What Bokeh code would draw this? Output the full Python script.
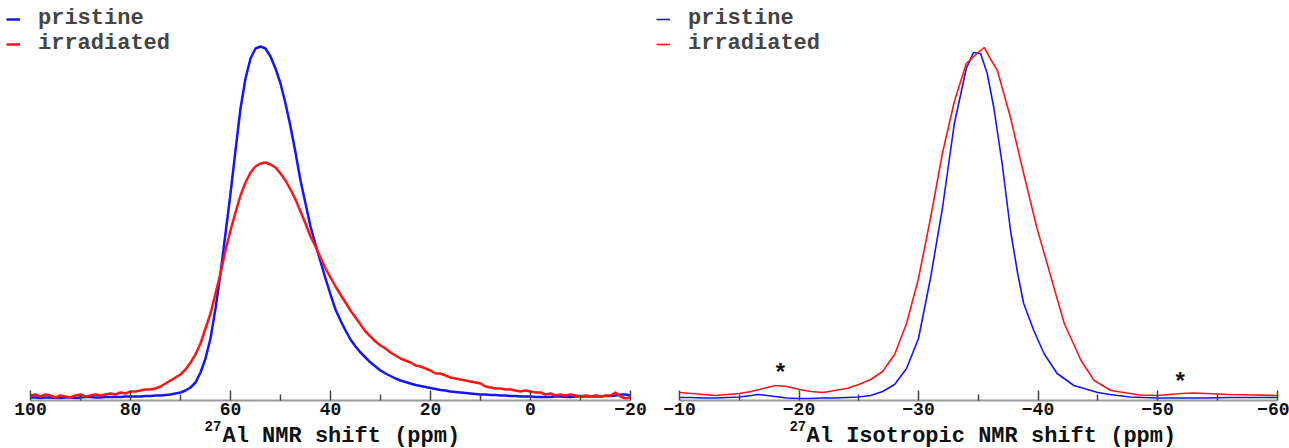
from bokeh.plotting import figure
from bokeh.models import Range1d, FixedTicker, Label, Legend, LegendItem
from bokeh.layouts import row
from bokeh.core.properties import value
from bokeh.embed import file_html
from bokeh.resources import INLINE

# ---------------- data: left panel (27Al MAS NMR) ----------------
left_ppm = [100, 99, 98, 97, 96, 95, 94, 93, 92, 91, 90, 89, 88, 87, 86, 85, 84, 83, 82, 81,
            80, 79, 78, 77, 76, 75, 74, 73, 72, 71, 70, 69, 68, 67, 66, 65, 64, 63, 62, 61,
            60, 59, 58, 57, 56, 55, 54, 53, 52, 51, 50, 49, 48, 47, 46, 45, 44, 43, 42, 41,
            40, 39, 38, 37, 36, 35, 34, 33, 32, 31, 30, 29, 28, 27, 26, 25, 24, 23, 22, 21,
            20, 19, 18, 17, 16, 15, 14, 13, 12, 11, 10, 9, 8, 7, 6, 5, 4, 3, 2, 1,
            0, -1, -2, -3, -4, -5, -6, -7, -8, -9, -10, -11, -12, -13, -14, -15, -16, -17, -18, -19, -20]
left_pristine = [1, 1, 0.5, 1, 1, 0.5, 0.5, 1, 1, 0.5, 1, 1.5, 1.5, 1, 1, 1.5, 1.5, 1.5, 1.5, 2,
                 2, 2, 2, 2.5, 2.5, 3, 3, 3.5, 4, 5, 6, 8, 11, 16, 26, 40, 60, 90, 125, 165,
                 205, 248, 290, 320, 340, 350, 352, 350, 342, 330, 315, 295, 272, 246, 218, 195, 172, 154, 137, 120,
                 104, 89, 78, 68, 59, 52, 46, 41, 36, 32, 28, 25, 22.5, 20, 18, 16.5, 15, 13.5, 12.5, 11.5,
                 10.5, 9.5, 8.5, 8, 7, 6.5, 6, 5.5, 5, 4.5, 4, 4, 3.5, 3.5, 3, 3, 2.5, 2.5, 2, 2,
                 2, 1.5, 1.5, 1.5, 1.5, 2, 2, 1.5, 1.5, 2, 2, 2, 2, 2, 2, 2.5, 2.5, 3, 4, 4, 3]
left_irradiated = [3, 4, 2, 4, 3, 1, 3, 2, 1, 3, 4, 2, 3, 4, 3, 4, 5, 4, 6, 5,
                   7, 7, 8, 9, 9, 10, 12, 15, 18, 21, 24, 29, 36, 44, 55, 70, 85, 105, 125, 148,
                   168, 186, 203, 216, 226, 232, 235, 236, 234, 231, 225, 218, 209, 199, 187, 175, 162, 152, 141, 130,
                   121, 112, 104, 96, 88, 81, 74, 67, 62, 57, 53, 50, 46, 43, 40, 38, 36, 33, 32, 30,
                   28, 25, 25, 23, 21, 20, 19, 18, 17, 16, 15, 12, 11, 10, 10, 9, 9, 8, 7, 8,
                   7, 6, 6, 4, 5, 3, 4, 3, 4, 3, 2, 3, 2, 3, 2, 3, 3, 6, 2, 0, 1]

left_ticks = [100, 80, 60, 40, 20, 0, -20]
left_minor = [90, 70, 50, 30, 10, -10]

# ---------------- data: right panel (isotropic projection) ----------------
right_ppm_p = [-10, -11, -12, -13, -14, -15, -16, -16.5, -17, -18, -19, -20, -21, -22, -23, -24, -25,
               -26, -27, -28, -29, -30, -31, -32, -33, -34, -34.6, -35.2, -35.75, -36.3, -37, -37.7,
               -38.3, -38.8, -39.65, -40.5, -41.6, -43, -45, -46, -47.7, -50, -52, -54, -56, -58, -60]
right_pristine = [1, 1, 0.5, 0.5, 1, 1.5, 3, 4, 3.5, 2, 0.5, 0, 0, 0.5, 0.5, 1, 1.5,
                  3, 7, 14, 30, 60, 120, 190, 275, 330, 346, 345, 325, 291, 235, 168,
                  125, 95, 68, 45, 25, 13, 6, 4, 1.5, 0.5, 0.5, 0.5, 1, 1, 1]
right_ppm_i = [-10, -11, -12, -13, -14, -15, -16, -17, -18, -19, -20, -21, -22, -23, -24, -25,
               -26, -27, -28, -29, -30, -31, -32, -33, -34, -34.9, -35.5, -36.1, -36.6, -37.7,
               -38.8, -39.9, -41, -42.2, -43.6, -44.7, -46.1, -47.7, -48.5, -50, -51, -52, -53,
               -54, -55, -56, -58, -60]
right_irradiated = [6, 5, 4, 3, 4, 5, 7, 10, 13, 12, 9, 7, 6, 8, 10, 14,
                    19, 27, 44, 75, 120, 180, 245, 297, 335, 345, 351, 338, 328, 281,
                    225, 171, 125, 75, 38, 18, 8, 5, 3.5, 3, 4, 5, 5.5,
                    5, 4.5, 4, 3.5, 3]

right_ticks = [-10, -20, -30, -40, -50, -60]
right_minor = [-15, -25, -35, -45, -55]

star_ppm = [-18.45, -51.9]
star_y = [24, 15]

series_names = ["pristine", "irradiated"]
BLUE = "#1414ff"
RED = "#ff1414"
MONO = "Liberation Mono"


def style_axis(p, ticks, minor, bounds):
    ax = p.xaxis[0]
    ax.fixed_location = -1.5
    ax.ticker = FixedTicker(ticks=ticks, minor_ticks=minor)
    ax.bounds = bounds
    ax.axis_line_color = "#9a9a9a"
    ax.axis_line_width = 2
    ax.major_tick_in = 10
    ax.major_tick_out = 0
    ax.minor_tick_in = 6
    ax.minor_tick_out = 0
    ax.major_tick_line_color = "#444444"
    ax.minor_tick_line_color = "#444444"
    ax.major_tick_line_width = 1.5
    ax.minor_tick_line_width = 1.5
    ax.major_label_text_font = MONO
    ax.major_label_text_font_style = "bold"
    ax.major_label_text_font_size = "18px"
    ax.major_label_text_color = "#111111"
    ax.major_label_standoff = 3


def make_fig(width, x_start, x_end):
    p = figure(width=width, height=448, x_range=Range1d(x_start, x_end),
               y_range=Range1d(-50, 398), output_backend="svg", toolbar_location=None,
               min_border_left=0, min_border_right=0, min_border_top=0,
               min_border_bottom=0, y_axis_location=None)
    p.grid.visible = False
    p.outline_line_color = None
    p.background_fill_color = "white"
    return p


def make_legend(r_a, r_b):
    return Legend(items=[LegendItem(label=series_names[0], renderers=[r_a]),
                         LegendItem(label=series_names[1], renderers=[r_b])],
                  location="top_left", margin=6, padding=0, spacing=-1,
                  glyph_width=14, glyph_height=20, label_height=20, label_standoff=18,
                  label_text_font=MONO, label_text_font_style="bold", label_text_font_size="22px",
                  label_text_line_height=1.0,
                  border_line_alpha=0, background_fill_alpha=0)


def add_title(p, x_sup, x_main, text):
    p.add_layout(Label(x=x_sup, y=-27, text="27", text_font=MONO, text_font_style="bold",
                       text_font_size="14px", text_baseline="alphabetic", text_align="left",
                       text_color="#111111"))
    p.add_layout(Label(x=x_main, y=-38, text=text, text_font=MONO, text_font_style="bold",
                       text_font_size="22px", text_baseline="alphabetic", text_align="left",
                       text_color="#111111"))


# ---------------- left figure ----------------
p1 = make_fig(650, 106, -24)
style_axis(p1, left_ticks, left_minor, (-20, 100))
r1 = p1.line(left_ppm, left_pristine, line_color=BLUE, line_width=2.5, line_join="round")
r2 = p1.line(left_ppm, left_irradiated, line_color=RED, line_width=2.5, line_join="round")
p1.add_layout(make_legend(r1, r2))
add_title(p1, 65.2, 61.6, "Al NMR shift (ppm)")

# ---------------- right figure ----------------
p2 = make_fig(639, -7.573, -61.046)
style_axis(p2, right_ticks, right_minor, (-60, -10))
r3 = p2.line(right_ppm_p, right_pristine, line_color=BLUE, line_width=1.6)
r4 = p2.line(right_ppm_i, right_irradiated, line_color=RED, line_width=1.6)
p2.add_layout(make_legend(r3, r4))
p2.text(x=star_ppm, y=star_y, text=["*", "*"], text_font=value(MONO), text_font_style="bold",
        text_font_size="24px", text_align="center", text_baseline="middle", text_color="#111111")
add_title(p2, -19.2, -20.63, "Al Isotropic NMR shift (ppm)")

layout = row(p1, p2)
open("out.html", "w").write(file_html(layout, INLINE))
